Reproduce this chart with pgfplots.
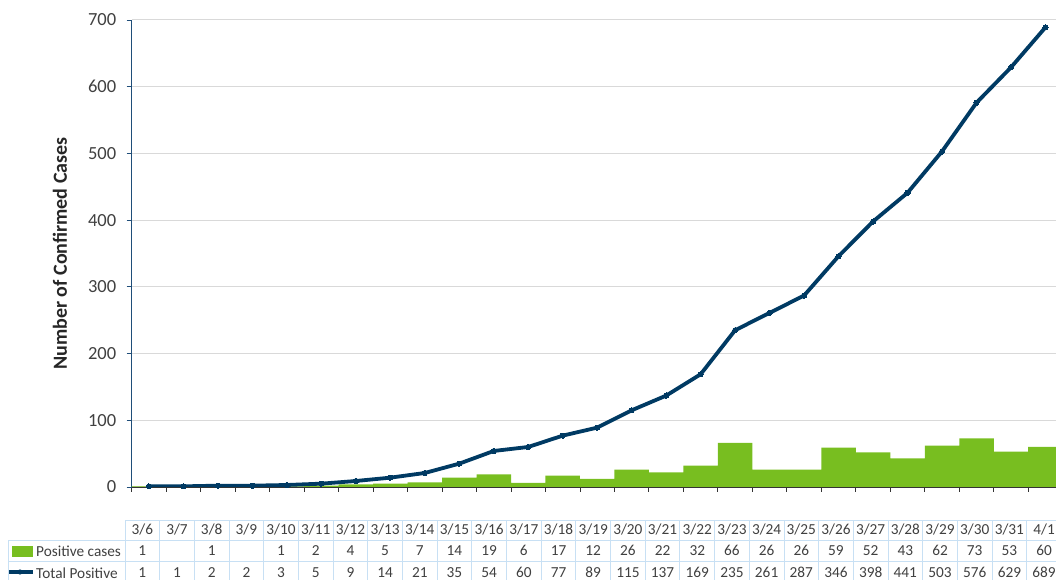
\documentclass[border=0pt]{standalone}
\usepackage{pgfplots}
\pgfplotsset{compat=1.18}
\usepackage{fontspec}
\setmainfont{Carlito}
\definecolor{barg}{RGB}{120,190,32}
\definecolor{navy}{RGB}{0,58,99}
\definecolor{txt}{RGB}{64,64,64}
\definecolor{gridc}{RGB}{217,217,217}
\definecolor{tbl}{RGB}{200,224,244}
\definecolor{yax}{RGB}{31,78,121}
\begin{document}
\begin{tikzpicture}[x=1pt,y=1pt]
\useasboundingbox (0,0) rectangle (1056,580);
\clip (0,0) rectangle (1056,580);
% data table grid
\foreach \i in {0,...,27} { \draw[tbl, line width=0.8pt] ({125+34.68*\i},0) -- ({125+34.68*\i},60); }
\draw[tbl,line width=0.8pt] (125,60) -- (1056,60);
\draw[tbl,line width=0.8pt] (8,40) -- (1056,40);
\draw[tbl,line width=0.8pt] (8,19) -- (1056,19);
\draw[tbl,line width=0.8pt] (8,0) -- (8,40);
% legend keys in the table
\fill[barg] (12,23) rectangle (33,34);
\node[anchor=west, inner sep=0pt, font=\fontsize{15.3}{18}\selectfont, text=txt] at (36,29) {Positive cases};
\draw[navy, line width=3.5pt] (9,8) -- (33,8);
\fill[navy] (20,8) circle (2.6);
\node[anchor=west, inner sep=0pt, font=\fontsize{15.3}{18}\selectfont, text=txt] at (36,7) {Total Positive};

\begin{axis}[at={(131.7pt,93pt)}, anchor=south west, scale only axis,
  width=931pt, height=467pt,
  xmin=-0.5, xmax=26.5, ymin=0, ymax=700,
  axis x line=bottom, axis y line=left, axis line style={-},
  x axis line style={draw=black!80, line width=0.9pt},
  y axis line style={draw=yax, line width=0.9pt},
  xtick={-0.5,0.5,...,26.5}, xticklabels={},
  ytick={0,100,...,700},
  tick align=outside, major tick length=5pt,
  xtick style={draw=black!80, line width=0.9pt},
  ytick style={draw=yax, line width=0.9pt},
  ymajorgrids, grid style={gridc, line width=1pt},
  yticklabel style={font=\fontsize{18.5}{18.5}\selectfont, text=txt, xshift=-7pt},
  /pgf/number format/assume math mode=true,
  every axis y label/.style={at={(axis description cs:0,0.5)}, xshift=-71.7pt, rotate=90, anchor=center, font=\bfseries\fontsize{20}{22}\selectfont, text=black!85},
  ylabel={Number of Confirmed Cases},
]
\addplot[ybar, bar width=1, fill=barg, draw=none] coordinates {
(0,1) (2,1) (4,1) (5,2) (6,4) (7,5) (8,7) (9,14) (10,19) (11,6) (12,17) (13,12)
(14,26) (15,22) (16,32) (17,66) (18,26) (19,26) (20,59) (21,52) (22,43) (23,62)
(24,73) (25,53) (26,60)};
\addplot[navy, line width=3.8pt, mark=*, mark size=2.6pt, mark options={solid, fill=navy, draw=navy, line width=0pt}] coordinates {
(0,1) (1,1) (2,2) (3,2) (4,3) (5,5) (6,9) (7,14) (8,21) (9,35) (10,54) (11,60)
(12,77) (13,89) (14,115) (15,137) (16,169) (17,235) (18,261) (19,287) (20,346)
(21,398) (22,441) (23,503) (24,576) (25,629) (26,689)};
\end{axis}

\begin{axis}[at={(125pt,60pt)}, anchor=south west, scale only axis,
  width=936.4pt, height=5pt,
  xmin=-0.5, xmax=26.5, ymin=0, ymax=1,
  axis line style={draw=none}, ytick=\empty,
  xtick={0,...,26}, major tick length=0pt,
  xticklabel style={align=center, anchor=north, font=\fontsize{15.3}{21.5}\selectfont, text=txt},
  xticklabels={
  {3/6\\1\\1},{3/7\\\phantom{0}\\1},{3/8\\1\\2},{3/9\\\phantom{0}\\2},{3/10\\1\\3},
  {3/11\\2\\5},{3/12\\4\\9},{3/13\\5\\14},{3/14\\7\\21},{3/15\\14\\35},
  {3/16\\19\\54},{3/17\\6\\60},{3/18\\17\\77},{3/19\\12\\89},{3/20\\26\\115},
  {3/21\\22\\137},{3/22\\32\\169},{3/23\\66\\235},{3/24\\26\\261},{3/25\\26\\287},
  {3/26\\59\\346},{3/27\\52\\398},{3/28\\43\\441},{3/29\\62\\503},{3/30\\73\\576},
  {3/31\\53\\629},{4/1\\60\\689}},
]
\addplot[draw=none] coordinates {(0,0)};
\end{axis}
\end{tikzpicture}
\end{document}
